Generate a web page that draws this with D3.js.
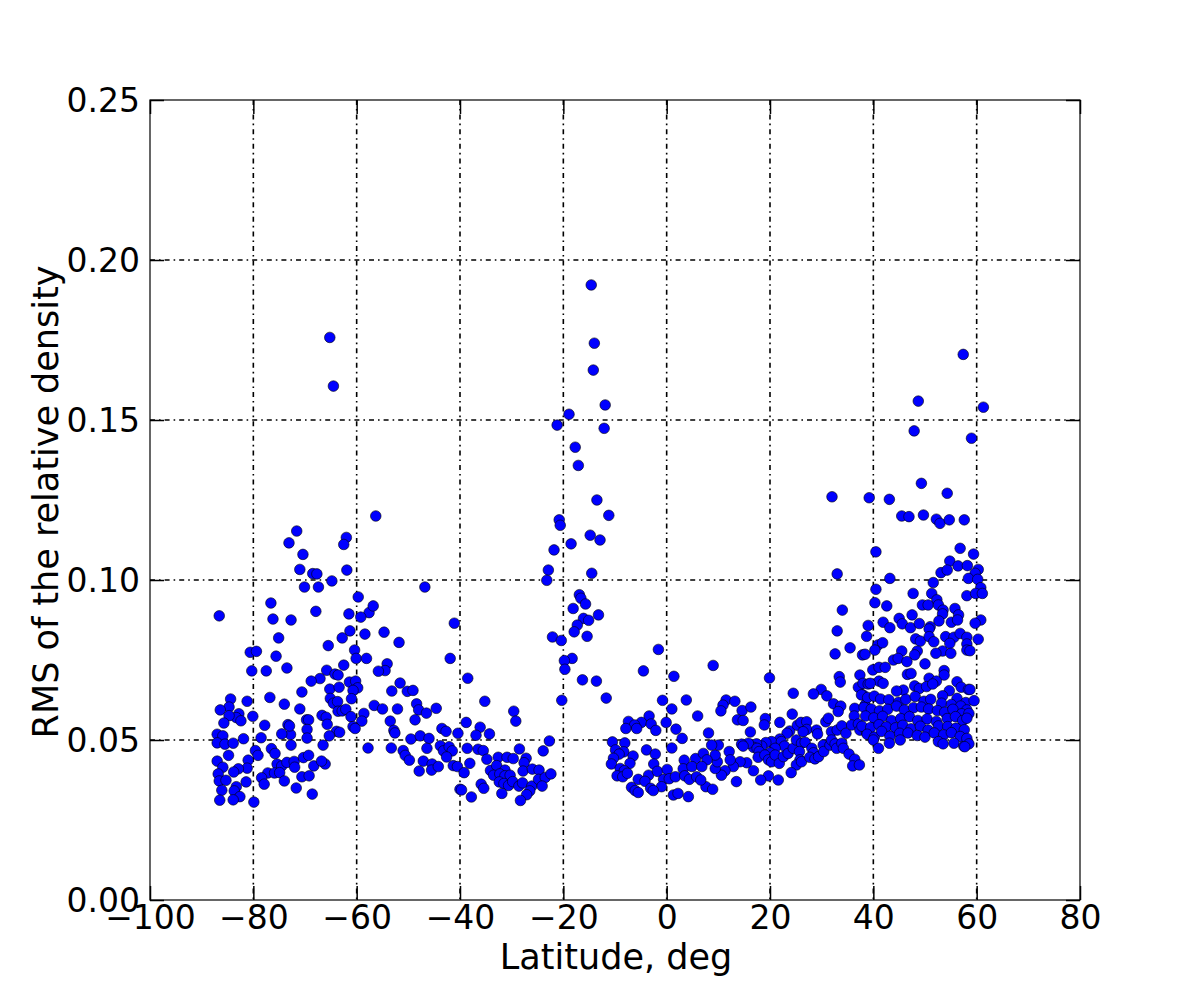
<!DOCTYPE html>
<html>
<head>
<meta charset="utf-8">
<script src="https://cdn.jsdelivr.net/npm/d3@7"></script>
<style>
  body { margin: 0; background: #fff; }
  svg { display: block; font-family: "DejaVu Sans", sans-serif; }
</style>
</head>
<body>
<svg width="1200" height="1000"></svg>
<script>
// axis ticks
const xTicks = [-100, -80, -60, -40, -20, 0, 20, 40, 60, 80];
const yTicks = [0, 0.05, 0.10, 0.15, 0.20, 0.25];

// [latitude (deg), RMS of the relative density]
// southern high latitudes
const southPoints = [
  [-71.6,0.1153],[-73.1,0.1116],[-70.4,0.108],[-71.0,0.1033],[-68.5,0.102],[-67.7,0.1019],[-62.0,0.1133],[-62.5,0.1111],
  [-61.9,0.1031],[-64.8,0.0997],[-70.1,0.0978],[-67.4,0.0978],[-59.7,0.0947],[-57.6,0.0898],[-86.6,0.0888],[-76.6,0.0928],
  [-76.2,0.0878],[-72.7,0.0875],[-67.9,0.0902],[-61.5,0.0894],[-59.2,0.0884],[-58.4,0.0831],[-61.3,0.0841],[-62.8,0.0819],
  [-75.1,0.0819],[-65.5,0.0795],[-60.4,0.0781],[-60.1,0.0755],[-58.1,0.0755],[-80.6,0.0774],[-79.4,0.0777],[-75.6,0.0762],
  [-62.5,0.0734],[-73.5,0.0725],[-80.3,0.0716],[-77.5,0.0716],[-65.8,0.0718],[-64.2,0.0706],[-63.6,0.0703],[-67.1,0.0692],
  [-68.8,0.0684],[-61.4,0.0681],[-60.2,0.0684],[-59.8,0.0663],[-60.7,0.0655],[-65.2,0.0659],[-63.4,0.0665],[-70.6,0.065],
  [-61.0,0.0629],[-65.1,0.063],[-64.5,0.0615],[-63.7,0.062],[-76.8,0.0633],[-81.2,0.0621],[-84.4,0.0628],[-84.7,0.0603],
  [-86.4,0.0594],[-82.8,0.0582],[-83.3,0.057],[-84.7,0.0576],[-82.4,0.056],[-85.7,0.0553],[-80.1,0.0574],[-74.0,0.0612],
  [-71.0,0.0597],[-69.7,0.0563],[-69.3,0.0563],[-69.6,0.0533],[-66.7,0.0577],[-65.9,0.0571],[-65.7,0.0549],[-63.6,0.059],
  [-62.8,0.0591],[-62.1,0.0596],[-61.1,0.0573],[-58.6,0.0583],[-59.0,0.0559],[-60.7,0.0542],[-60.3,0.0536],[-63.9,0.0527],
  [-63.3,0.0524],[-65.3,0.0513],[-69.6,0.0506],[-72.8,0.0517],[-73.3,0.0548],[-73.0,0.0544],[-74.5,0.0519],[-77.8,0.0546],
  [-78.5,0.0507],[-81.9,0.0504],[-87.0,0.0518],[-85.9,0.0513],[-87.0,0.0491],[-85.5,0.0487],[-83.9,0.049],[-79.6,0.0467],
  [-79.1,0.0452],[-76.5,0.0473],[-75.8,0.0458],[-72.7,0.0484],[-66.5,0.0484],[-57.8,0.0475],[-84.8,0.0452],[-87.0,0.0434],
  [-85.9,0.0415],[-81.0,0.0437],[-81.2,0.0412],[-82.9,0.041],[-83.8,0.04],[-86.8,0.0394],[-86.6,0.0372],[-85.3,0.0374],
  [-81.4,0.0369],[-75.4,0.0425],[-74.5,0.0419],[-73.5,0.043],[-72.1,0.0433],[-72.0,0.0415],[-70.3,0.0445],[-69.3,0.0452],
  [-68.3,0.0419],[-66.1,0.0425],[-66.8,0.0434],[-77.2,0.0397],[-75.9,0.0397],[-74.9,0.0398],[-78.4,0.0382],[-77.9,0.0362],
  [-74.0,0.0372],[-70.6,0.0385],[-69.2,0.0388],[-71.7,0.035],[-68.6,0.0331],[-83.3,0.0354],[-83.7,0.0341],[-82.6,0.0323],
  [-83.9,0.0313],[-86.1,0.0343],[-86.5,0.0312],[-79.9,0.0306],[-65.2,0.1758],[-64.5,0.1606]
];

// southern mid latitudes
const southMidPoints = [
  [-56.3,0.12],[-46.8,0.0978],[-56.8,0.0919],[-54.7,0.0837],[-51.8,0.0805],[-41.1,0.0865],[-54.1,0.0738],[-54.5,0.0717],
  [-55.8,0.0715],[-41.9,0.0755],[-38.5,0.0693],[-51.6,0.0678],[-53.2,0.0653],[-50.2,0.0652],[-49.1,0.0655],[-35.2,0.0621],
  [-56.6,0.0608],[-55.0,0.0597],[-52.1,0.0597],[-48.4,0.0613],[-48.0,0.0594],[-46.5,0.0584],[-44.6,0.0599],[-29.6,0.059],
  [-29.2,0.0559],[-53.5,0.0559],[-48.7,0.0563],[-52.8,0.053],[-52.6,0.0522],[-43.5,0.0536],[-42.7,0.0527],[-38.8,0.0555],
  [-36.1,0.054],[-40.4,0.0521],[-36.9,0.0515],[-34.3,0.0519],[-49.5,0.0503],[-47.7,0.0513],[-46.0,0.0505],[-53.3,0.0475],
  [-51.0,0.0467],[-50.6,0.0452],[-49.8,0.0437],[-46.4,0.0474],[-47.1,0.0434],[-47.9,0.0403],[-45.4,0.0425],[-45.5,0.0406],
  [-44.2,0.0417],[-43.8,0.0482],[-43.2,0.0466],[-42.1,0.0479],[-41.5,0.0466],[-42.6,0.0447],[-41.3,0.042],[-40.5,0.0417],
  [-39.2,0.0398],[-38.6,0.0474],[-36.5,0.0471],[-35.5,0.0467],[-34.8,0.044],[-38.1,0.0427],[-34.1,0.0405],[-32.6,0.0446],
  [-30.9,0.0446],[-29.7,0.0442],[-27.2,0.0443],[-28.5,0.0472],[-27.6,0.0429],[-32.9,0.042],[-31.3,0.0406],[-33.5,0.039],
  [-32.3,0.0394],[-31.3,0.0388],[-30.3,0.039],[-27.8,0.0403],[-26.0,0.0409],[-24.7,0.0406],[-32.4,0.0369],[-31.5,0.0364],
  [-30.6,0.0358],[-29.8,0.037],[-28.6,0.0356],[-27.9,0.0366],[-26.1,0.0356],[-26.5,0.0341],[-24.8,0.0377],[-27.1,0.0329],
  [-28.3,0.0311],[-35.9,0.0362],[-35.4,0.0349],[-31.9,0.0333],[-40.0,0.0346],[-39.7,0.0344],[-37.8,0.0322]
];

// tropics
const tropicPoints = [
  [-14.6,0.1922],[-14.0,0.174],[-14.2,0.1656],[-11.9,0.1547],[-18.9,0.1518],[-21.2,0.1484],[-12.1,0.1474],[-17.7,0.1415],
  [-17.1,0.1358],[-13.5,0.125],[-11.2,0.1202],[-20.8,0.1188],[-20.6,0.1171],[-14.8,0.114],[-12.9,0.1125],[-18.5,0.1113],
  [-21.8,0.1094],[-22.9,0.1031],[-23.2,0.0999],[-14.5,0.1021],[-16.9,0.0954],[-16.6,0.0943],[-15.7,0.0925],[-18.1,0.0911],
  [-16.1,0.088],[-15.1,0.0874],[-13.2,0.0891],[-17.3,0.0859],[-17.9,0.0838],[-15.4,0.0824],[-22.1,0.0822],[-20.4,0.0811],
  [-1.6,0.0783],[-18.3,0.0755],[-19.8,0.0748],[-19.7,0.0721],[-4.5,0.0716],[1.4,0.0699],[-16.3,0.0688],[-13.6,0.0684],
  [-11.7,0.0631],[-20.3,0.0624],[-0.8,0.0624],[3.8,0.0625],[1.0,0.0597],[-3.4,0.0575],[-7.4,0.0558],[-4.9,0.0555],
  [-3.0,0.055],[-6.2,0.0547],[-5.8,0.0536],[-7.9,0.0536],[-2.1,0.053],[-0.1,0.0555],[1.8,0.0534],[3.0,0.0505],
  [6.0,0.0575],[-22.7,0.0497],[-23.9,0.0466],[-10.5,0.0494],[-8.1,0.0491],[-9.9,0.0469],[-8.3,0.0463],[-9.2,0.0456],
  [-3.9,0.0469],[-2.2,0.0456],[1.0,0.0475],[-6.5,0.045],[-10.3,0.0443],[-10.7,0.0425],[-7.1,0.0427],[-2.5,0.0425],
  [3.4,0.0437],[5.6,0.0442],[-23.5,0.0383],[-22.4,0.0394],[-24.1,0.0356],[-9.0,0.0411],[-8.2,0.0404],[-9.6,0.0388],
  [-8.5,0.0385],[-7.6,0.0396],[-5.5,0.0377],[-3.5,0.039],[-4.2,0.0371],[-1.8,0.0402],[0.1,0.0408],[-0.6,0.0377],
  [0.5,0.0379],[1.7,0.0385],[3.2,0.041],[3.5,0.0388],[4.4,0.0377],[4.9,0.0417],[5.8,0.0385],[-3.1,0.0349],
  [-6.8,0.0352],[-6.1,0.0342],[-5.5,0.0336],[-1.0,0.0354],[-2.6,0.0342],[1.3,0.0328],[2.2,0.0333],[4.2,0.0323]
];

// northern mid latitudes
const northMidPoints = [
  [33.0,0.1019],[34.0,0.0906],[33.0,0.0841],[39.0,0.0858],[38.7,0.0824],[35.5,0.0788],[32.6,0.0769],[37.9,0.0766],
  [38.4,0.0768],[9.0,0.0733],[19.9,0.0694],[33.4,0.0698],[33.6,0.0681],[37.4,0.0703],[37.1,0.0665],[38.0,0.0677],
  [39.0,0.0675],[29.9,0.0658],[28.4,0.0644],[31.0,0.0638],[24.5,0.0646],[32.3,0.0613],[33.7,0.0606],[33.2,0.0589],
  [38.0,0.0641],[38.4,0.0609],[36.4,0.0599],[36.3,0.0575],[11.5,0.0625],[13.2,0.0621],[10.9,0.0609],[10.5,0.0591],
  [14.6,0.0592],[16.3,0.0603],[13.7,0.0563],[14.8,0.0561],[19.1,0.0567],[18.9,0.0547],[21.9,0.0555],[24.3,0.0581],
  [8.1,0.0522],[16.2,0.0525],[23.8,0.0528],[25.3,0.0546],[26.0,0.0555],[27.1,0.0557],[27.1,0.0533],[26.4,0.0526],
  [29.0,0.0531],[29.2,0.0519],[30.8,0.0557],[31.3,0.0568],[31.9,0.0526],[33.0,0.0531],[33.9,0.0544],[34.7,0.0521],
  [35.8,0.0547],[37.1,0.055],[37.4,0.0531],[38.7,0.0523],[23.3,0.0521],[21.9,0.0503],[20.3,0.0495],[19.2,0.0492],
  [22.2,0.0495],[22.8,0.0481],[21.0,0.0474],[20.0,0.046],[18.4,0.0481],[17.4,0.0488],[16.8,0.0477],[15.8,0.049],
  [14.5,0.0487],[14.8,0.0481],[17.5,0.0474],[17.9,0.0464],[17.7,0.0446],[19.0,0.0453],[19.7,0.0438],[20.3,0.0432],
  [21.0,0.0453],[21.8,0.0427],[22.6,0.0448],[23.5,0.0458],[24.5,0.0474],[25.1,0.05],[26.1,0.049],[26.8,0.0493],
  [25.7,0.0464],[25.8,0.0438],[25.1,0.0422],[26.1,0.0432],[28.1,0.0474],[28.4,0.046],[27.7,0.0446],[28.7,0.0441],
  [29.4,0.0448],[30.3,0.0484],[30.4,0.0464],[31.6,0.0484],[31.9,0.05],[32.6,0.0488],[32.9,0.0474],[33.9,0.049],
  [34.2,0.0474],[35.3,0.0456],[36.4,0.044],[36.0,0.0419],[37.3,0.0422],[24.1,0.0398],[21.6,0.0375],[19.7,0.0388],
  [18.2,0.0375],[16.8,0.0404],[15.5,0.0429],[14.2,0.0432],[13.5,0.037],[12.9,0.0417],[12.1,0.0464],[12.3,0.0438],
  [11.3,0.0404],[10.6,0.039],[9.4,0.0411],[9.8,0.0432],[9.4,0.0453],[10.0,0.0484],[8.7,0.0484],[7.1,0.0458],
  [7.8,0.0438],[6.8,0.0417],[7.6,0.0354],[8.9,0.0346],[6.6,0.0375],[32.0,0.126]
];

// northern high latitudes
const northPoints = [
  [49.3,0.1302],[54.3,0.1271],[39.2,0.1257],[43.1,0.1252],[45.5,0.12],[46.9,0.1198],[49.7,0.1203],[52.2,0.119],
  [52.9,0.1177],[54.7,0.1188],[57.6,0.1188],[40.5,0.1088],[56.8,0.1099],[54.8,0.1059],[56.4,0.1044],[58.2,0.1045],
  [53.1,0.1023],[54.3,0.1031],[43.2,0.1005],[51.6,0.0992],[40.5,0.0971],[47.7,0.0958],[51.3,0.0958],[58.1,0.0951],
  [40.3,0.0929],[42.6,0.0919],[52.3,0.0938],[49.5,0.0922],[50.6,0.0922],[52.6,0.0922],[53.5,0.0906],[55.8,0.0911],
  [53.4,0.0894],[56.5,0.0891],[47.5,0.0891],[45.0,0.088],[41.9,0.0868],[45.6,0.0863],[47.2,0.0851],[48.9,0.0864],
  [51.0,0.0854],[52.7,0.0872],[55.1,0.0868],[56.3,0.0875],[43.2,0.0851],[50.8,0.0847],[48.2,0.0816],[49.1,0.0809],
  [50.8,0.0823],[51.7,0.0807],[54.0,0.0823],[55.6,0.0821],[56.8,0.0833],[58.1,0.0821],[54.8,0.0802],[58.1,0.08],
  [40.9,0.0797],[41.8,0.0804],[40.3,0.0781],[45.5,0.0778],[53.4,0.0778],[55.0,0.0771],[58.1,0.0781],[48.5,0.0778],
  [48.0,0.0766],[52.1,0.0771],[43.9,0.075],[44.8,0.0755],[46.5,0.0745],[50.0,0.0738],[39.9,0.0719],[41.1,0.0727],
  [42.3,0.0727],[46.6,0.0705],[47.3,0.0708],[53.7,0.0717],[53.7,0.0703],[50.8,0.0693],[52.2,0.0684],[56.2,0.0682],
  [41.1,0.0684],[41.9,0.0677],[39.4,0.0677],[45.8,0.0656],[44.5,0.0653],[48.0,0.0669],[48.9,0.0661],[50.3,0.0667],
  [51.5,0.0675],[54.7,0.0654],[57.0,0.0665],[58.4,0.0658],[53.4,0.0638],[56.2,0.063],[57.9,0.0617],
  [37.7,0.0641],[38.9,0.0633],[40.2,0.0637],[41.4,0.0628],[43.0,0.0626],[44.9,0.0618],[46.3,0.0627],[48.1,0.0636],
  [49.8,0.0621],[51.1,0.0627],[53.2,0.0615],[55.1,0.0611],[56.9,0.0606],[58.1,0.0594],
  [38.2,0.0602],[39.6,0.0597],[41.2,0.0591],[42.8,0.0596],[44.5,0.0606],[46.0,0.0594],[47.8,0.0601],[49.3,0.0603],
  [50.7,0.0597],[52.4,0.0592],[53.8,0.0587],[55.4,0.0596],[57.1,0.0582],
  [38.5,0.0575],[40.1,0.0569],[41.8,0.0574],[43.5,0.0561],[45.3,0.0567],[47.0,0.0573],[48.6,0.0561],[50.4,0.0566],
  [52.2,0.0558],[54.3,0.0567],[55.9,0.0573],[57.3,0.0561],
  [37.8,0.0543],[39.5,0.0539],[41.1,0.0548],[42.5,0.0541],[44.3,0.0538],[45.7,0.0546],[47.3,0.0535],[49.1,0.0543],
  [50.6,0.0531],[52.6,0.0544],[54.4,0.0542],[56.0,0.0537],[57.6,0.0532],
  [38.8,0.0518],[40.2,0.0509],[41.6,0.0527],[43.2,0.0512],[45.1,0.0521],[46.7,0.0522],[48.5,0.0514],[50.0,0.0509],
  [51.8,0.0522],[53.6,0.0516],[55.1,0.0523],[56.8,0.0511],
  [40.0,0.05],[43.1,0.049],[45.2,0.05],[52.6,0.0495],[53.5,0.0488],[55.6,0.049],[57.5,0.0481],[41.0,0.0474],
  [59.4,0.1081],[60.3,0.1033],[59.7,0.1021],[58.4,0.1005],[60.2,0.1002],[60.8,0.0976],[59.8,0.0958],[61.1,0.0958],
  [60.8,0.0875],[59.7,0.0865],[60.3,0.0815],[58.7,0.0779],[58.7,0.0658],[59.5,0.0623],[58.5,0.0583],[58.1,0.0568],
  [58.1,0.0505],[58.5,0.0488],[57.7,0.0479],
  [57.4,0.1705],[48.7,0.1559],[61.3,0.154],[47.9,0.1466],[59.0,0.1443]
];

const points = southPoints.concat(southMidPoints, tropicPoints, northMidPoints, northPoints);

const svg = d3.select('svg');
const plot = {left: 150, right: 1080, top: 100, bottom: 900};
const tickFont = 33;
const titleFont = 35;

const x = d3.scaleLinear().domain([-100, 80]).range([plot.left, plot.right]);
const y = d3.scaleLinear().domain([0, 0.25]).range([plot.bottom, plot.top]);

// dash-dot grid
const grid = svg.append('g').attr('class', 'grid')
  .attr('stroke', '#000')
  .attr('stroke-width', 1.6)
  .attr('stroke-dasharray', '5,4,1.6,4');
grid.selectAll('.vgrid')
  .data(xTicks.slice(1, -1))
  .enter()
  .append('line')
  .attr('class', 'vgrid')
  .attr('x1', d => x(d)).attr('x2', d => x(d))
  .attr('y1', plot.top).attr('y2', plot.bottom);
grid.selectAll('.hgrid')
  .data(yTicks.slice(1, -1))
  .enter()
  .append('line')
  .attr('class', 'hgrid')
  .attr('x1', plot.left).attr('x2', plot.right)
  .attr('y1', d => y(d)).attr('y2', d => y(d));

// scatter
svg.append('g').selectAll('circle')
  .data(points)
  .enter()
  .append('circle')
  .attr('cx', d => x(d[0]))
  .attr('cy', d => y(d[1]))
  .attr('r', 5.3)
  .attr('fill', '#0000ff')
  .attr('stroke', '#000')
  .attr('stroke-width', 0.6);

// axes: ticks inward on all four sides, labels left and bottom
const tickLen = 14;
const fmtX = d => (d < 0 ? '\u2212' + Math.abs(d) : String(d));
const fmtY = d3.format('.2f');

const bottomAxis = d3.axisBottom(x).tickValues(xTicks).tickSize(-tickLen).tickPadding(6).tickFormat(fmtX);
const topAxis = d3.axisTop(x).tickValues(xTicks).tickSize(-tickLen).tickFormat('');
const leftAxis = d3.axisLeft(y).tickValues(yTicks).tickSize(-tickLen).tickPadding(10).tickFormat(fmtY);
const rightAxis = d3.axisRight(y).tickValues(yTicks).tickSize(-tickLen).tickFormat('');

function styleAxis(g) {
  g.select('.domain').remove();
  g.selectAll('.tick line').attr('stroke', '#000').attr('stroke-width', 1.5);
  g.selectAll('.tick text')
    .attr('fill', '#000')
    .attr('font-family', '"DejaVu Sans", sans-serif')
    .attr('font-size', tickFont);
}

svg.append('g').attr('transform', `translate(0,${plot.bottom})`).call(bottomAxis).call(styleAxis)
  .selectAll('.tick text').attr('dy', '0.71em');
svg.append('g').attr('transform', `translate(0,${plot.top})`).call(topAxis).call(styleAxis);
svg.append('g').attr('transform', `translate(${plot.left},0)`).call(leftAxis).call(styleAxis)
  .selectAll('.tick text').attr('dy', '0.36em');
svg.append('g').attr('transform', `translate(${plot.right},0)`).call(rightAxis).call(styleAxis);

// frame
svg.append('rect')
  .attr('x', plot.left).attr('y', plot.top)
  .attr('width', plot.right - plot.left).attr('height', plot.bottom - plot.top)
  .attr('fill', 'none').attr('stroke', '#000').attr('stroke-width', 1.2);

// axis titles
svg.append('text')
  .attr('x', (plot.left + plot.right) / 2 + 1)
  .attr('y', 969)
  .attr('text-anchor', 'middle')
  .attr('font-size', titleFont)
  .text('Latitude, deg');
svg.append('text')
  .attr('transform', `translate(58,${(plot.top + plot.bottom) / 2 + 2}) rotate(-90)`)
  .attr('text-anchor', 'middle')
  .attr('font-size', titleFont)
  .text('RMS of the relative density');
</script>
</body>
</html>
